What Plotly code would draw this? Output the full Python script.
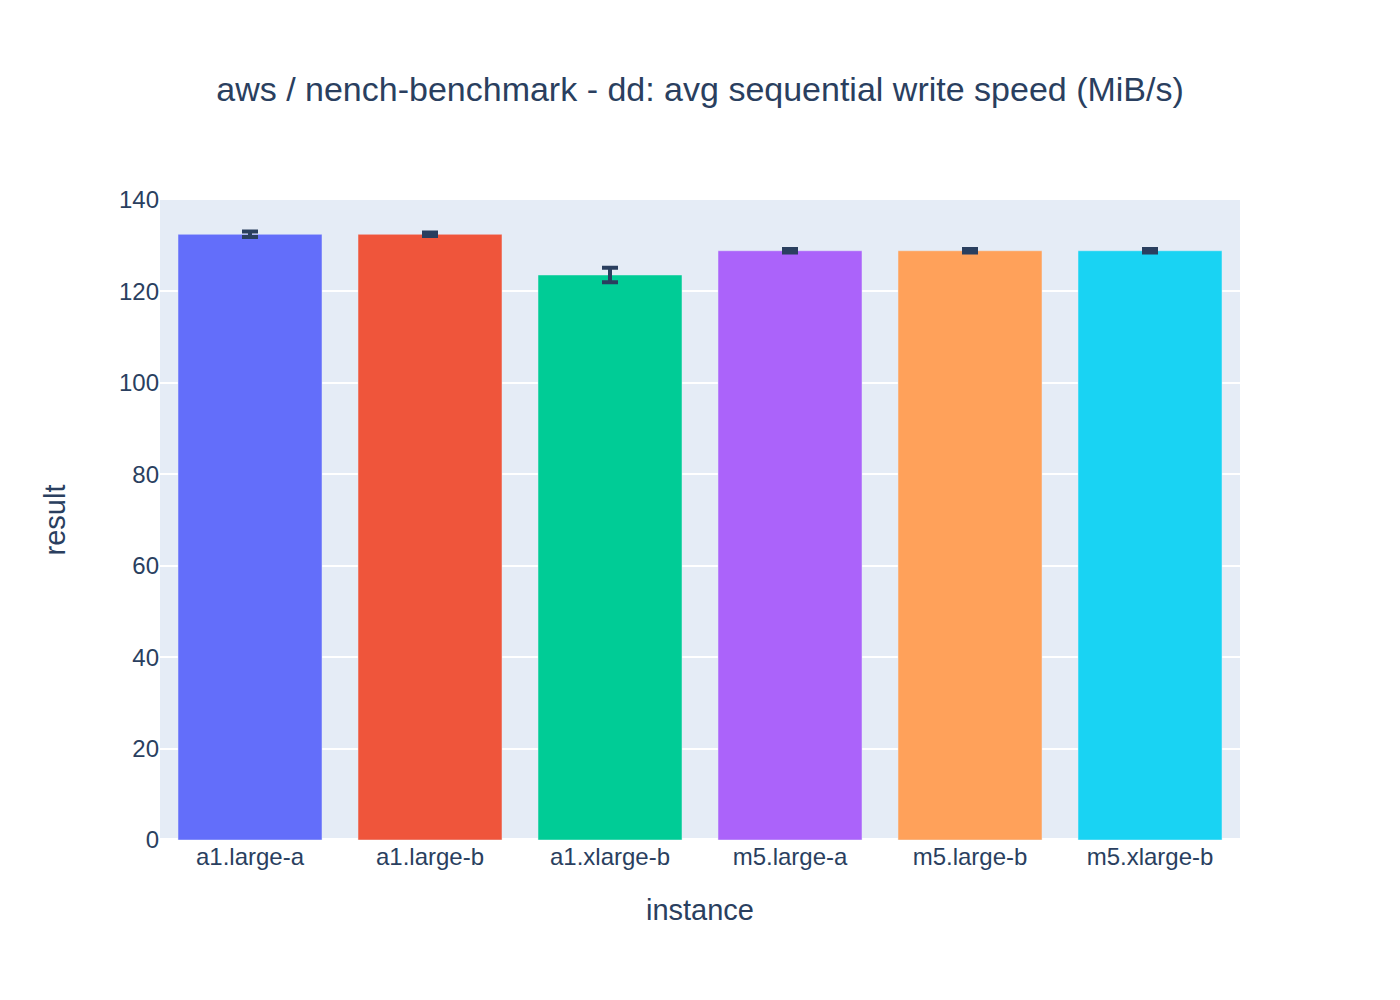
import plotly.graph_objects as go

instances = ["a1.large-a", "a1.large-b", "a1.xlarge-b", "m5.large-a", "m5.large-b", "m5.xlarge-b"]
results = [132.5, 132.5, 123.6, 128.9, 128.9, 128.9]
errors = [0.6, 0.4, 1.6, 0.4, 0.4, 0.4]
colors = ["#636efa", "#EF553B", "#00cc96", "#ab63fa", "#FFA15A", "#19d3f3"]

fig = go.Figure()
for name, val, err, col in zip(instances, results, errors, colors):
    fig.add_trace(go.Bar(
        x=[name], y=[val], name=name, marker_color=col,
        error_y=dict(type="data", array=[err], width=8, thickness=4, color="#2a3f5f"),
        showlegend=False,
    ))

# page has an 8px body margin, so shift the plot up/left to line up
fig.update_layout(
    template="plotly",
    width=1400, height=1000,
    margin=dict(l=152, r=168, t=192, b=168),
    font=dict(family="Liberation Sans, Arial, sans-serif", size=24, color="#2a3f5f"),
    title=dict(text="aws / nench-benchmark - dd: avg sequential write speed (MiB/s)",
               x=0.4943, xanchor="center", y=0.919, yanchor="middle", font=dict(size=34)),
    bargap=0.2,
    barmode="relative",
    xaxis=dict(title=dict(text="instance", standoff=30), categoryorder="array",
               categoryarray=instances, showgrid=False),
    yaxis=dict(title=dict(text="result", standoff=44), range=[0, 140], dtick=20,
               gridwidth=2, zerolinewidth=4),
)

fig.write_html("out.html")
